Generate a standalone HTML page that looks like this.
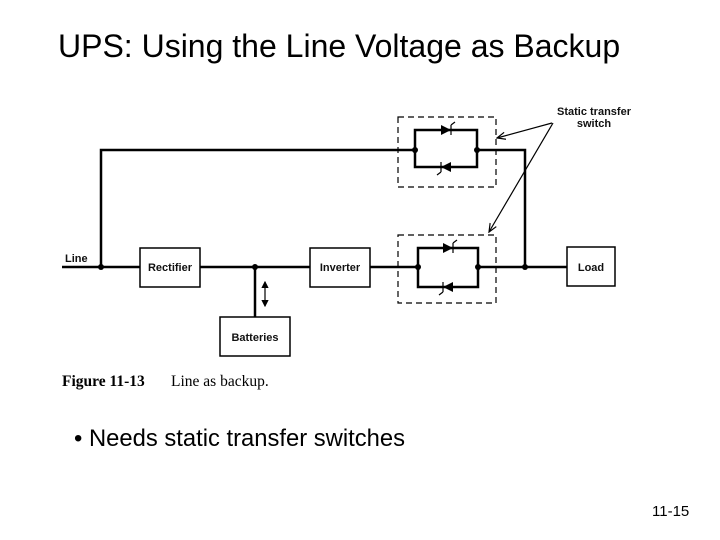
<!DOCTYPE html>
<html><head><style>
body{margin:0;width:720px;height:540px;background:#fff;overflow:hidden;position:relative;font-family:"Liberation Sans",sans-serif}
.t{position:absolute;left:58px;top:28px;font-size:32px;color:#000;white-space:nowrap}
.b{position:absolute;left:74px;top:425px;font-size:23.8px;white-space:nowrap}
.n{position:absolute;left:652px;top:503px;font-size:15px}
</style></head><body>
<div class="t">UPS: Using the Line Voltage as Backup</div>
<svg width="720" height="540" style="position:absolute;left:0;top:0">
<defs><marker id="a" markerWidth="8" markerHeight="8" refX="7" refY="4" orient="auto"><path d="M0,1 L7,4 L0,7" fill="none" stroke="#000" stroke-width="1"/></marker>
<marker id="f" markerWidth="6" markerHeight="6" refX="5" refY="3" orient="auto-start-reverse"><path d="M0,0 L6,3 L0,6z" fill="#000"/></marker></defs>
<g stroke="#000" stroke-width="2.5" fill="none">
<path d="M62 267H140M200 267H310M370 267H418M478 267H567"/>
<path d="M101 267V150H415M477 150H525V267"/>
<path d="M255 267V317"/>
<rect x="415" y="130" width="62" height="37"/>
<rect x="418" y="248" width="60" height="39"/>
</g>
<g stroke="#000" stroke-width="1.5" fill="#fff">
<rect x="140" y="248" width="60" height="39"/>
<rect x="310" y="248" width="60" height="39"/>
<rect x="567" y="247" width="48" height="39"/>
<rect x="220" y="317" width="70" height="39"/>
</g>
<g stroke="#000" stroke-width="1.2" fill="none" stroke-dasharray="6,4">
<rect x="398" y="117" width="98" height="70"/>
<rect x="398" y="235" width="98" height="68"/>
</g>
<g fill="#000">
<circle cx="101" cy="267" r="3"/><circle cx="255" cy="267" r="3"/><circle cx="415" cy="150" r="3"/><circle cx="477" cy="150" r="3"/><circle cx="418" cy="267" r="3"/><circle cx="478" cy="267" r="3"/><circle cx="525" cy="267" r="3"/>
<path d="M441 125l10 5l-10 5z"/><path d="M441 167l10 -5v10z"/>
<path d="M443 243l10 5l-10 5z"/><path d="M443 287l10 -5v10z"/>
</g>
<g stroke="#000" stroke-width="1.2" fill="none">
<path d="M451 125v10M455 122l-4 3M441 162v10M437 175l4-3M453 243v10M457 240l-4 3M443 282v10M439 295l4-3"/>
<path d="M265 282V306" marker-start="url(#f)" marker-end="url(#f)"/>
<path d="M552 123L497 138" marker-end="url(#a)"/>
<path d="M553 123L489 232" marker-end="url(#a)"/>
</g>
<g font-family="Liberation Sans,sans-serif" font-size="11" font-weight="bold" fill="#111">
<text x="65" y="262">Line</text>
<text x="170" y="271" text-anchor="middle">Rectifier</text>
<text x="340" y="271" text-anchor="middle">Inverter</text>
<text x="591" y="271" text-anchor="middle">Load</text>
<text x="255" y="341" text-anchor="middle">Batteries</text>
<text x="594" y="115" text-anchor="middle">Static transfer</text>
<text x="594" y="127" text-anchor="middle">switch</text>
</g>
<text x="62" y="386" font-family="Liberation Serif,serif" font-size="15.5" font-weight="bold">Figure 11-13</text>
<text x="171" y="386" font-family="Liberation Serif,serif" font-size="15.5">Line as backup.</text>
</svg>
<div class="b">• Needs static transfer switches</div>
<div class="n">11-15</div>
</body></html>
